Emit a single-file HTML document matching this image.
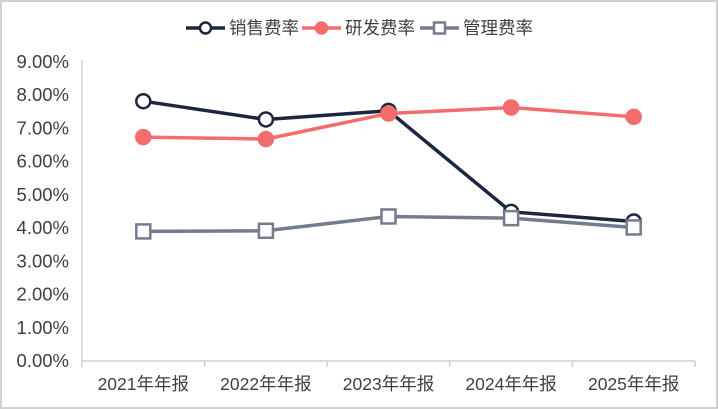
<!DOCTYPE html>
<html><head><meta charset="utf-8"><style>
body{margin:0;background:#fff}
svg{display:block;font-family:"Liberation Sans","Noto Sans CJK SC",sans-serif}
</style></head><body>
<svg id="c" width="718" height="409">
<rect x="1" y="1" width="716" height="407" fill="#fff" stroke="#d0d0d0" stroke-width="2"/>
<g id="legend"></g>
<g id="axes"></g>
<g id="series"></g>
</svg>
<script>
const categories=["2021年年报","2022年年报","2023年年报","2024年年报","2025年年报"];
const salesRate=[7.82,7.27,7.53,4.49,4.2];
const rdRate=[6.74,6.68,7.45,7.63,7.35];
const mgmtRate=[3.9,3.92,4.35,4.3,4.02];
const yTicks=[0,1,2,3,4,5,6,7,8,9];
const seriesNames=["销售费率","研发费率","管理费率"];

const NS="http://www.w3.org/2000/svg";
const L=82,R=695,T=62,B=361,yMax=9;
const xs=i=>L+(R-L)/categories.length*(i+0.5);
const ys=v=>B-(B-T)*v/yMax;
function mk(tag,attrs,parent,text){const e=document.createElementNS(NS,tag);for(const k in attrs)e.setAttribute(k,attrs[k]);if(text!==undefined)e.textContent=text;parent.appendChild(e);return e;}
const axes=document.getElementById('axes'),ser=document.getElementById('series'),leg=document.getElementById('legend');

yTicks.forEach(t=>{const e=mk('text',{x:69,y:ys(t)+6,'text-anchor':'end','font-size':18.5,fill:'#404040'},axes,t.toFixed(2)+'%');

});
let a=mk('line',{x1:L,y1:T-2,x2:L,y2:B,stroke:'#d0d0d0','stroke-width':1.5},axes);


a=mk('line',{x1:L,y1:B,x2:R,y2:B,stroke:'#d0d0d0','stroke-width':1.5},axes);


for(let i=0;i<=categories.length;i++){const x=L+(R-L)/categories.length*i;const e=mk('line',{x1:x,y1:B,x2:x,y2:B+6,stroke:'#d0d0d0','stroke-width':1.5},axes);

}
categories.forEach((c,i)=>{const e=mk('text',{x:xs(i),y:390,'text-anchor':'middle','font-size':17.5,fill:'#404040'},axes,c);

});

const cfg=[{d:salesRate,c:'#1c2640',m:'circle',f:'#fff'},{d:rdRate,c:'#f56c6c',m:'circle',f:'#f56c6c'},{d:mgmtRate,c:'#737c8f',m:'square',f:'#fff'}];
function marker(g,type,x,y,color,fill,r){if(type==='circle')return mk('circle',{cx:x,cy:y,r:r,fill:fill,stroke:color,'stroke-width':2.5},g);return mk('rect',{x:x-r,y:y-r,width:2*r,height:2*r,fill:fill,stroke:color,'stroke-width':2.5},g);}
cfg.forEach((s,k)=>{const g=mk('g',{},ser);


const p=mk('polyline',{points:s.d.map((v,i)=>xs(i)+','+ys(v)).join(' '),fill:'none',stroke:s.c,'stroke-width':3.5},g);


s.d.forEach((v,i)=>{const m=marker(g,s.m,xs(i),ys(v),s.c,s.f,7);

});});

const lx=[186,302,420];
cfg.forEach((s,k)=>{const g=mk('g',{},leg);


mk('line',{x1:lx[k],y1:28,x2:lx[k]+39,y2:28,stroke:s.c,'stroke-width':3.5},g);
marker(g,s.m,lx[k]+19.5,28,s.c,s.f,5.5);
mk('text',{x:lx[k]+43,y:34,'font-size':17.5,fill:'#404040'},g,seriesNames[k]);});
</script>
</body></html>
